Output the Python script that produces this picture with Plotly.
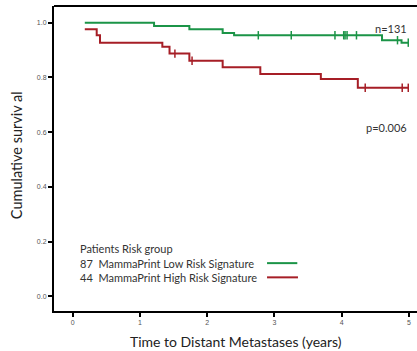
import plotly.graph_objects as go

# Kaplan-Meier step data (time in years, cumulative survival)
low_time = [0.18, 1.21, 1.735, 2.23, 2.40, 4.60, 4.89, 4.99]
low_surv = [1.000, 0.988, 0.976, 0.962, 0.954, 0.936, 0.927, 0.927]
low_cens_time = [2.76, 3.25, 3.90, 4.03, 4.05, 4.08, 4.22, 4.83, 4.99]
low_cens_surv = [0.954, 0.954, 0.954, 0.954, 0.954, 0.954, 0.954, 0.936, 0.927]

high_time = [0.18, 0.357, 0.406, 1.333, 1.44, 1.735, 2.23, 2.79, 3.69, 4.24, 4.99]
high_surv = [0.976, 0.954, 0.927, 0.912, 0.887, 0.861, 0.837, 0.812, 0.794, 0.762, 0.762]
high_cens_time = [1.52, 1.775, 4.35, 4.90, 4.99]
high_cens_surv = [0.887, 0.861, 0.762, 0.762, 0.762]

x_ticks = [0, 1, 2, 3, 4, 5]
x_tick_labels = ["0", "1", "2", "3", "4", "5"]
y_ticks = [0.0, 0.2, 0.4, 0.6, 0.8, 1.0]
y_tick_labels = ["0.0", "0.2", "0.4", "0.6", "0.8", "1.0"]

GREEN = "#1b9447"
RED = "#a61e26"
FONT = "Lato"

fig = go.Figure()
fig.add_trace(go.Scatter(x=low_time, y=low_surv, mode="lines", line_shape="hv",
                         line=dict(color=GREEN, width=2), hoverinfo="skip"))
fig.add_trace(go.Scatter(x=high_time, y=high_surv, mode="lines", line_shape="hv",
                         line=dict(color=RED, width=2), hoverinfo="skip"))
fig.add_trace(go.Scatter(x=low_cens_time, y=low_cens_surv, mode="markers",
                         marker=dict(symbol="line-ns", size=6, line=dict(color=GREEN, width=1.5))))
fig.add_trace(go.Scatter(x=high_cens_time, y=high_cens_surv, mode="markers",
                         marker=dict(symbol="line-ns", size=6, line=dict(color=RED, width=1.5))))

fig.update_layout(
    width=417, height=351,
    margin=dict(l=54, r=0, t=6, b=40),
    paper_bgcolor="white", plot_bgcolor="white",
    showlegend=False,
    font=dict(family=FONT, color="#333"),
    xaxis=dict(range=[-0.278, 5.12], tickvals=x_ticks, ticktext=x_tick_labels,
               showgrid=False, zeroline=False, showline=True, linecolor="black", linewidth=2,
               ticks="outside", ticklen=4, tickwidth=1.5, tickcolor="black",
               tickfont=dict(family="Liberation Sans", size=7, color="#555")),
    yaxis=dict(range=[-0.054, 1.061], tickvals=y_ticks, ticktext=y_tick_labels,
               showgrid=False, zeroline=False, showline=True, linecolor="black", linewidth=2,
               ticks="outside", ticklen=4, tickwidth=1.5, tickcolor="black",
               tickfont=dict(family="Liberation Sans", size=7, color="#555")),
)

# top frame line
fig.add_shape(type="line", xref="paper", yref="paper", x0=0, x1=1, y0=1, y1=1,
              line=dict(color="black", width=2))

anns = [
    dict(text="Cumulative surviv al", xref="paper", yref="paper", x=0, y=0.511,
         xanchor="center", yanchor="middle", xshift=-38, textangle=-90,
         font=dict(size=14.5, color="#222")),
    dict(text="Time to Distant Metastases (years)", xref="paper", yref="paper", x=0.5, y=0,
         xanchor="center", yanchor="middle", yshift=-30, font=dict(size=14, color="#222")),
    dict(text="n=131", x=5.0, y=0.98, xanchor="right", yanchor="middle",
         font=dict(size=11, color="#333")),
    dict(text="p=0.006", x=5.0, y=0.616, xanchor="right", yanchor="middle",
         font=dict(size=11, color="#333")),
    dict(text="Patients Risk group", x=0.08, y=0.176, xanchor="left", yanchor="middle",
         font=dict(size=11, color="#333")),
    dict(text="87  MammaPrint Low Risk Signature", x=0.08, y=0.121, xanchor="left", yanchor="middle",
         font=dict(size=11, color="#333")),
    dict(text="44  MammaPrint High Risk Signature", x=0.08, y=0.069, xanchor="left", yanchor="middle",
         font=dict(size=11, color="#333")),
]
for a in anns:
    a["showarrow"] = False
    fig.add_annotation(**a)

fig.add_shape(type="line", x0=2.89, x1=3.34, y0=0.121, y1=0.121, line=dict(color=GREEN, width=2))
fig.add_shape(type="line", x0=2.89, x1=3.35, y0=0.069, y1=0.069, line=dict(color=RED, width=2))

fig.write_html("out.html", config={"displayModeBar": False},
               post_script="document.body.style.margin='0';")
